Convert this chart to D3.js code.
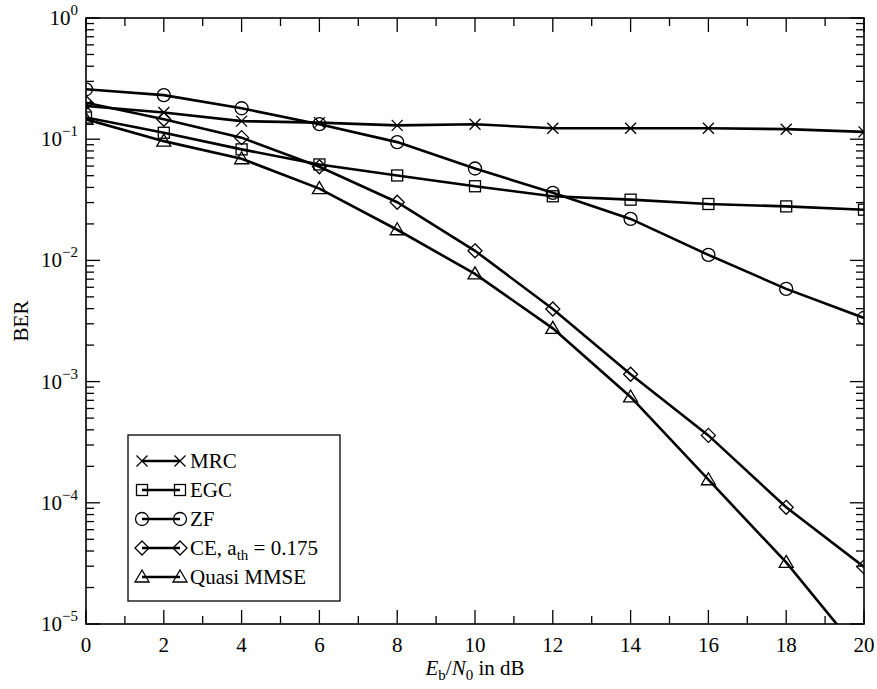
<!DOCTYPE html>
<html><head><meta charset="utf-8">
<script src="https://cdn.jsdelivr.net/npm/d3@7"></script>
<style>body{margin:0;background:#fff}svg{display:block}text{font-family:"Liberation Serif","DejaVu Serif",serif;fill:#000}</style>
</head><body><svg id="c" width="877" height="689"></svg>
<script>
const snr = [0,2,4,6,8,10,12,14,16,18,20];
const mrc = [0.188,0.166,0.141,0.137,0.130,0.133,0.123,0.123,0.123,0.121,0.115];
const egc = [0.151,0.113,0.0824,0.0619,0.0502,0.0409,0.0338,0.0317,0.0292,0.0279,0.0262];
const zf = [0.258,0.231,0.180,0.133,0.0946,0.0573,0.0361,0.0220,0.0111,0.00582,0.00335];
const ce = [0.200,0.146,0.103,0.0592,0.0302,0.0120,0.00397,0.00115,0.000360,0.0000918,0.0000296];
const qmmse = [0.146,0.0964,0.0690,0.0391,0.0179,0.00774,0.00275,0.000747,0.000155,0.0000322,0.0000053];
const seriesNames = ["MRC","EGC","ZF","CE","Quasi MMSE"];
const seriesSymbols = ["x","square","circle","diamond","triangle"];
const xTickLabels = ["0","2","4","6","8","10","12","14","16","18","20"];
const yExponents = ["0","−1","−2","−3","−4","−5"];

const L=86,R=864,T=18,B=624;
const svg=d3.select("#c");
const x=d3.scaleLinear().domain([0,20]).range([L,R]);
const y=d3.scaleLog().domain([1e-5,1]).range([B,T]);

svg.append("defs").append("clipPath").attr("id","clip").append("rect")
  .attr("x",L).attr("y",T).attr("width",R-L).attr("height",B-T);

// ticks
const g=svg.append("g").attr("stroke","#000").attr("stroke-width",1.3);
d3.range(0,21).forEach(v=>{
  const len = v%2===0?14:8;
  g.append("line").attr("x1",x(v)).attr("x2",x(v)).attr("y1",B).attr("y2",B-len);
  g.append("line").attr("x1",x(v)).attr("x2",x(v)).attr("y1",T).attr("y2",T+len);
});
for(let e=-5;e<=0;e++){
  for(let m=1;m<=9;m++){
    const v=m*Math.pow(10,e); if(v>1) break;
    const len = m===1?14:8;
    g.append("line").attr("y1",y(v)).attr("y2",y(v)).attr("x1",L).attr("x2",L+len);
    g.append("line").attr("y1",y(v)).attr("y2",y(v)).attr("x1",R).attr("x2",R-len);
  }
}
svg.append("rect").attr("x",L).attr("y",T).attr("width",R-L).attr("height",B-T)
  .attr("fill","none").attr("stroke","#000").attr("stroke-width",1.6);

// tick labels
xTickLabels.forEach((t,i)=>{
  svg.append("text").attr("x",x(snr[i])).attr("y",B+28).attr("text-anchor","middle")
    .attr("font-size",21).text(t);
});
yExponents.forEach((e,i)=>{
  const t=svg.append("text").attr("x",L-8).attr("y",y(Math.pow(10,-i))+7).attr("text-anchor","end").attr("font-size",21);
  t.append("tspan").text("10");
  t.append("tspan").attr("dy",-10).attr("font-size",15).text(e);
});

// axis titles
const xt=svg.append("text").attr("x",(L+R)/2).attr("y",B+51).attr("text-anchor","middle").attr("font-size",21);
xt.append("tspan").attr("font-style","italic").text("E");
xt.append("tspan").attr("font-size",15).attr("dy",5).text("b");
xt.append("tspan").attr("dy",-5).text("/");
xt.append("tspan").attr("font-style","italic").text("N");
xt.append("tspan").attr("font-size",15).attr("dy",5).text("0");
xt.append("tspan").attr("dy",-5).text(" in dB");
svg.append("text").attr("transform",`translate(28,${(T+B)/2}) rotate(-90)`).attr("text-anchor","middle")
  .attr("font-size",21).text("BER");

// symbols
function drawSym(sel,type,cx,cy){
  const s=sel.append("g").attr("fill","none").attr("stroke","#000").attr("stroke-width",1.3);
  if(type==="x"){
    s.append("path").attr("d",`M${cx-5.5},${cy-5.5}L${cx+5.5},${cy+5.5}M${cx-5.5},${cy+5.5}L${cx+5.5},${cy-5.5}`);
  } else if(type==="square"){
    s.append("rect").attr("x",cx-5.5).attr("y",cy-5.5).attr("width",11).attr("height",11);
  } else if(type==="circle"){
    s.append("circle").attr("cx",cx).attr("cy",cy).attr("r",6.5);
  } else if(type==="diamond"){
    s.append("path").attr("d",`M${cx},${cy-7}L${cx+7},${cy}L${cx},${cy+7}L${cx-7},${cy}Z`);
  } else if(type==="triangle"){
    s.append("path").attr("d",`M${cx},${cy-7}L${cx+7},${cy+5}L${cx-7},${cy+5}Z`);
  }
}

const allSeries=[mrc,egc,zf,ce,qmmse];
const line=d3.line().x(d=>x(d[0])).y(d=>y(d[1]));
const plot=svg.append("g").attr("clip-path","url(#clip)");
allSeries.forEach((vals,i)=>{
  const pts=snr.map((s,j)=>[s,vals[j]]);
  plot.append("path").attr("d",line(pts)).attr("fill","none").attr("stroke","#000").attr("stroke-width",2.6);
  pts.filter(p=>p[1]>=1e-5).forEach(p=>drawSym(plot,seriesSymbols[i],x(p[0]),y(p[1])));
});

// legend
const lg=svg.append("g");
const lx=128, ly=435, lw=212, lh=166;
lg.append("rect").attr("x",lx).attr("y",ly).attr("width",lw).attr("height",lh)
  .attr("fill","#fff").attr("stroke","#000").attr("stroke-width",1.3);
seriesNames.forEach((n,i)=>{
  const cy=ly+26+i*29;
  lg.append("line").attr("x1",lx+14).attr("x2",lx+52).attr("y1",cy).attr("y2",cy)
    .attr("stroke","#000").attr("stroke-width",2.6);
  drawSym(lg,seriesSymbols[i],lx+14,cy);
  drawSym(lg,seriesSymbols[i],lx+52,cy);
  const t=lg.append("text").attr("x",lx+62).attr("y",cy+7).attr("font-size",21);
  if(n==="CE"){
    t.append("tspan").text("CE, a");
    t.append("tspan").attr("font-size",15).attr("dy",5).text("th");
    t.append("tspan").attr("dy",-5).text(" = 0.175");
  } else t.text(n);
});
</script></body></html>
